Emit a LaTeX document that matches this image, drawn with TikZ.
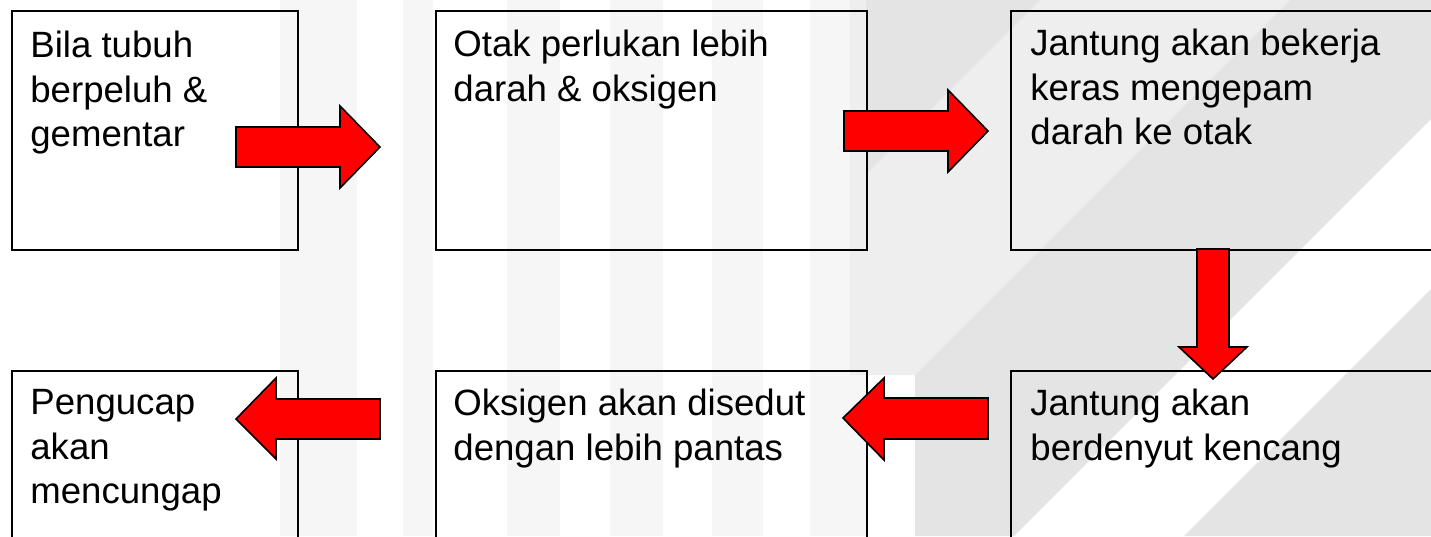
\documentclass[tikz,border=0pt]{standalone}
\usepackage{fontspec}
\setmainfont{Liberation Sans}
\definecolor{stripe}{gray}{0.965}
\definecolor{diag}{gray}{0.895}
\definecolor{diaglight}{gray}{0.935}
\definecolor{arrowred}{RGB}{255,0,0}
\begin{document}
\begin{tikzpicture}[x=0.5pt,y=-0.5pt,
  box/.style={draw=black,line width=1.1pt,anchor=north west,inner sep=0pt,
    minimum height=119.5pt},
  txt/.style={anchor=north west,inner sep=0pt,align=left,
    font=\fontsize{18.3pt}{22.25pt}\selectfont},
  bigarrow/.style={fill=arrowred,draw=black,line width=0.8pt,line join=miter}]
\useasboundingbox (0,0) rectangle (1431,536);
\begin{scope}
\clip (0,0) rectangle (1431,536);
% background
\fill[white] (0,0) rectangle (1431,536);
\foreach \a/\b in {280/357,403/433,507/560,610/663,712/763,810/867}
  \fill[stripe] (\a,0) rectangle (\b,536);
\fill[diaglight] (850,0) -- (1290,0) -- (915,375) -- (850,375) -- cycle;
\fill[diag] (866,0) -- (1040,0) -- (866,174) -- cycle;
\fill[diag] (1290,0) -- (1431,0) -- (1431,119) -- (1014,536) -- (915,536) -- (915,375) -- cycle;
\fill[diag] (1431,289) -- (1431,536) -- (1184,536) -- cycle;
% boxes
\node[box,minimum width=143pt] (b1) at (11,10) {};
\node[box,minimum width=215.5pt] (b2) at (435,10) {};
\node[box,minimum width=230pt] (b3) at (1010,10) {};
\node[box,minimum width=143pt,minimum height=110pt] (b4) at (11,370) {};
\node[box,minimum width=215.5pt,minimum height=110pt] (b5) at (435,370) {};
\node[box,minimum width=230pt,minimum height=110pt] (b6) at (1010,370) {};
% texts
\node[txt] (t1) at (30,31) {Bila tubuh\\berpeluh \&\\gementar};
\node[txt] (t2) at (453,30) {Otak perlukan lebih\\darah \& oksigen};
\node[txt] (t3) at (1030,29) {Jantung akan bekerja\\keras mengepam\\darah ke otak};
\node[txt] (t4) at (30,389) {Pengucap\\akan\\mencungap};
\node[txt] (t5) at (453,389) {Oksigen akan disedut\\dengan lebih pantas};
\node[txt] (t6) at (1030,389) {Jantung akan\\berdenyut kencang};
% arrows
\draw[bigarrow] (236,127) -- (340,127) -- (340,106) -- (380,147) -- (340,188) -- (340,167) -- (236,167) -- cycle;
\draw[bigarrow] (844,111) -- (948,111) -- (948,90) -- (988,131) -- (948,172) -- (948,151) -- (844,151) -- cycle;
\draw[bigarrow] (1197,249) -- (1229,249) -- (1229,347) -- (1247,347) -- (1213,379) -- (1179,347) -- (1197,347) -- cycle;
\draw[bigarrow] (988,398) -- (884,398) -- (884,378) -- (843,418) -- (884,460) -- (884,439) -- (988,439) -- cycle;
\draw[bigarrow] (380,399) -- (276,399) -- (276,378) -- (236,419) -- (276,459) -- (276,439) -- (380,439) -- cycle;
\end{scope}
\end{tikzpicture}
\end{document}
